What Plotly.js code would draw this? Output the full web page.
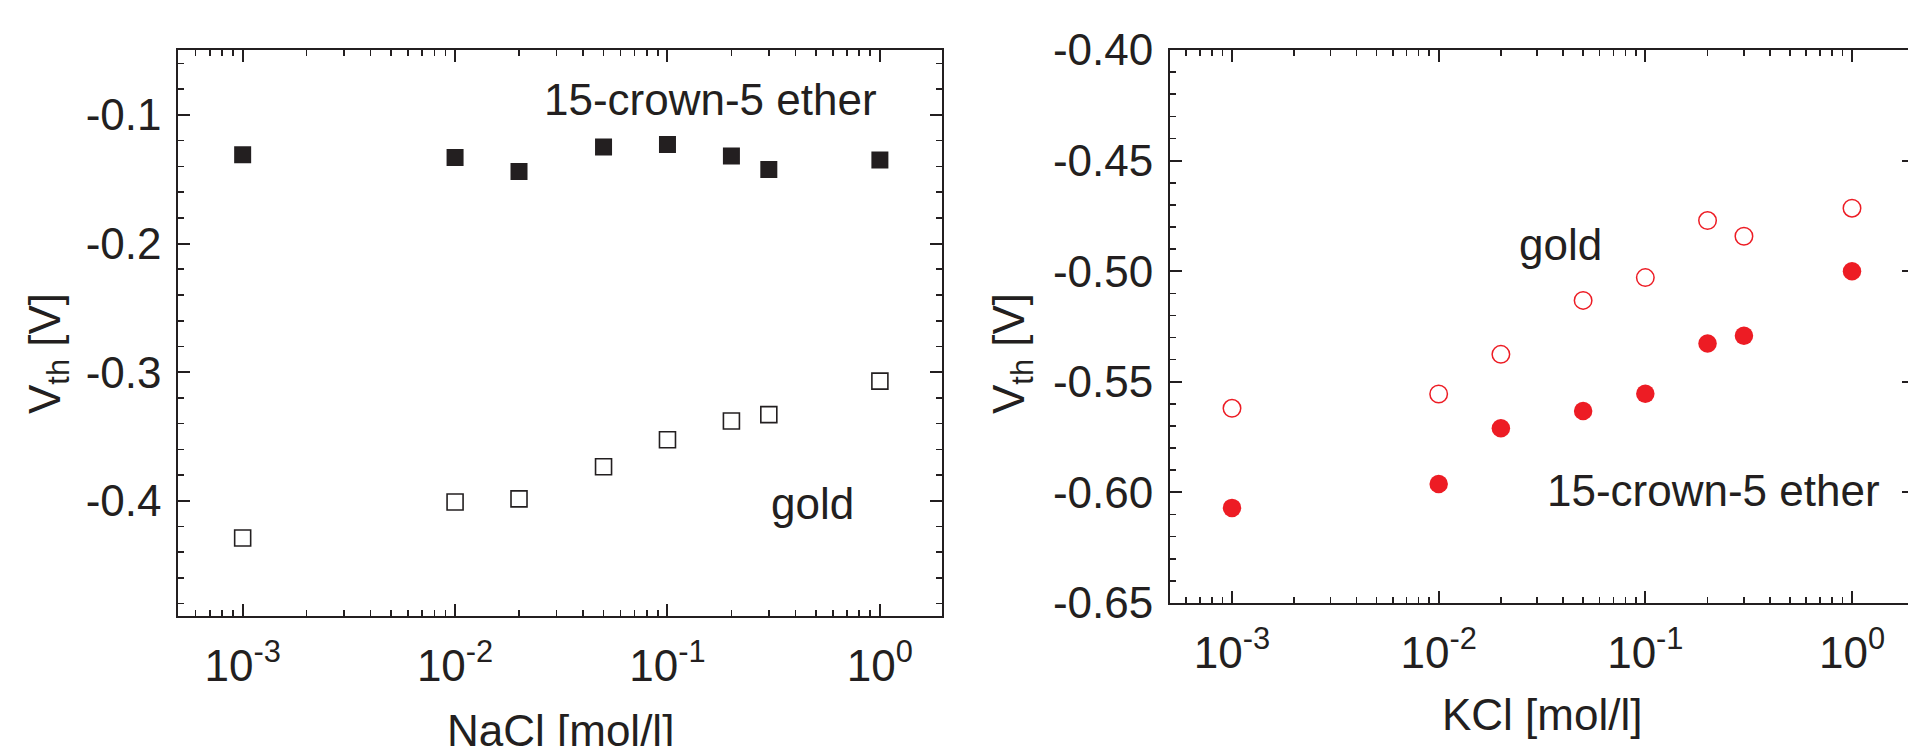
<!DOCTYPE html>
<html><head><meta charset="utf-8">
<script src="https://cdn.plot.ly/plotly-3.0.1.min.js"></script>
<style>html,body{margin:0;padding:0;overflow:hidden;background:#fff}#chart{width:1920px;height:760px}</style>
</head><body><div id="chart"></div>
<script>
// ---- data ----
const concentrations = [0.001, 0.01, 0.02, 0.05, 0.1, 0.2, 0.3, 1];
const naclCrown = [-0.131, -0.133, -0.144, -0.125, -0.123, -0.132, -0.1425, -0.135];
const naclGold  = [-0.429, -0.401, -0.3985, -0.3735, -0.3525, -0.338, -0.333, -0.307];
const kclGold   = [-0.562, -0.5555, -0.5376, -0.5132, -0.5029, -0.4771, -0.4842, -0.4715];
const kclCrown  = [-0.607, -0.5962, -0.571, -0.5632, -0.5554, -0.5327, -0.5292, -0.500];
const xTickVals = [0.001, 0.01, 0.1, 1];
const xTickText = ['10<sup>-3</sup>', '10<sup>-2</sup>', '10<sup>-1</sup>', '10<sup>0</sup>'];
const naclYTickVals = [-0.1, -0.2, -0.3, -0.4];
const naclYTickText = ['-0.1', '-0.2', '-0.3', '-0.4'];
const kclYTickVals = [-0.40, -0.45, -0.50, -0.55, -0.60, -0.65];
const kclYTickText = ['-0.40', '-0.45', '-0.50', '-0.55', '-0.60', '-0.65'];

// ---- layout helpers ----
const W = 1920, H = 760;
const INK = '#231f20', RED = '#ed1c24';
const FONT = 'Liberation Sans, Arial, Helvetica, sans-serif';
const px = v => v / W, py = v => 1 - v / H;

function xAxis(domain, range, anchor) {
  return {
    type: 'log', domain: domain, range: range, anchor: anchor,
    showline: true, linewidth: 2, linecolor: INK, mirror: 'ticks',
    ticks: 'inside', ticklen: 12, tickwidth: 2, tickcolor: INK,
    tickmode: 'array', tickvals: xTickVals, ticktext: xTickText,
    tickfont: {family: FONT, size: 44, color: INK},
    ticklabelstandoff: 10,
    minor: {ticks: 'inside', ticklen: 6, tickwidth: 1.6, tickcolor: INK, dtick: 'D1', showgrid: false},
    showgrid: false, zeroline: false
  };
}
function yAxis(domain, range, anchor, vals, text, mdt) {
  return {
    domain: domain, range: range, anchor: anchor,
    showline: true, linewidth: 2, linecolor: INK, mirror: 'ticks',
    ticks: 'inside', ticklen: 12, tickwidth: 2, tickcolor: INK,
    tickmode: 'array', tickvals: vals, ticktext: text,
    tickfont: {family: FONT, size: 44, color: INK},
    ticklabelstandoff: 6,
    minor: {ticks: 'inside', ticklen: 6, tickwidth: 1.6, tickcolor: INK, tickmode: 'linear', tick0: 0, dtick: mdt, showgrid: false},
    showgrid: false, zeroline: false
  };
}

const traces = [
  {x: concentrations, y: naclCrown, xaxis: 'x', yaxis: 'y', mode: 'markers', type: 'scatter',
   marker: {symbol: 'square', size: 17, color: INK, line: {width: 0}}},
  {x: concentrations, y: naclGold, xaxis: 'x', yaxis: 'y', mode: 'markers', type: 'scatter',
   marker: {symbol: 'square-open', size: 16, color: INK, line: {width: 1.6, color: INK}}},
  {x: concentrations, y: kclGold, xaxis: 'x2', yaxis: 'y2', mode: 'markers', type: 'scatter',
   marker: {symbol: 'circle-open', size: 17.5, color: RED, line: {width: 1.5, color: RED}}},
  {x: concentrations, y: kclCrown, xaxis: 'x2', yaxis: 'y2', mode: 'markers', type: 'scatter',
   marker: {symbol: 'circle', size: 18.5, color: RED, line: {width: 0}}}
];

const txt = (s, x, y, xanchor, extra) => Object.assign({
  text: s, xref: 'paper', yref: 'paper', x: px(x), y: py(y), xanchor: xanchor, yanchor: 'middle',
  showarrow: false, font: {family: FONT, size: 44, color: INK}
}, extra || {});

const layout = {
  width: W, height: H, margin: {l: 0, r: 0, t: 0, b: 0},
  paper_bgcolor: '#fff', plot_bgcolor: '#fff', showlegend: false,
  xaxis: xAxis([px(178.3), px(941.7)], [-3.303, 0.291], 'y'),
  yaxis: yAxis([py(616), py(50)], [-0.4896, -0.0495], 'x', naclYTickVals, naclYTickText, 0.02),
  xaxis2: xAxis([px(1170), px(1914)], [-3.3, 0.3], 'y2'),
  yaxis2: yAxis([py(603), py(50)], [-0.65, -0.40], 'x2', kclYTickVals, kclYTickText, 0.01),
  annotations: [
    txt('15-crown-5 ether', 542, 99, 'left'),
    txt('gold', 812, 504, 'center'),
    txt('gold', 1560, 244, 'center'),
    txt('15-crown-5 ether', 1545, 490.5, 'left'),
    txt('NaCl [mol/l]', 560, 730, 'center'),
    txt('KCl [mol/l]', 1542, 714, 'center'),
    txt('V<sub>th</sub> [V]', 48, 354, 'center', {textangle: -90}),
    txt('V<sub>th</sub> [V]', 1012, 354, 'center', {textangle: -90})
  ]
};

Plotly.newPlot('chart', traces, layout, {displayModeBar: false, staticPlot: true});
</script>
</body></html>
